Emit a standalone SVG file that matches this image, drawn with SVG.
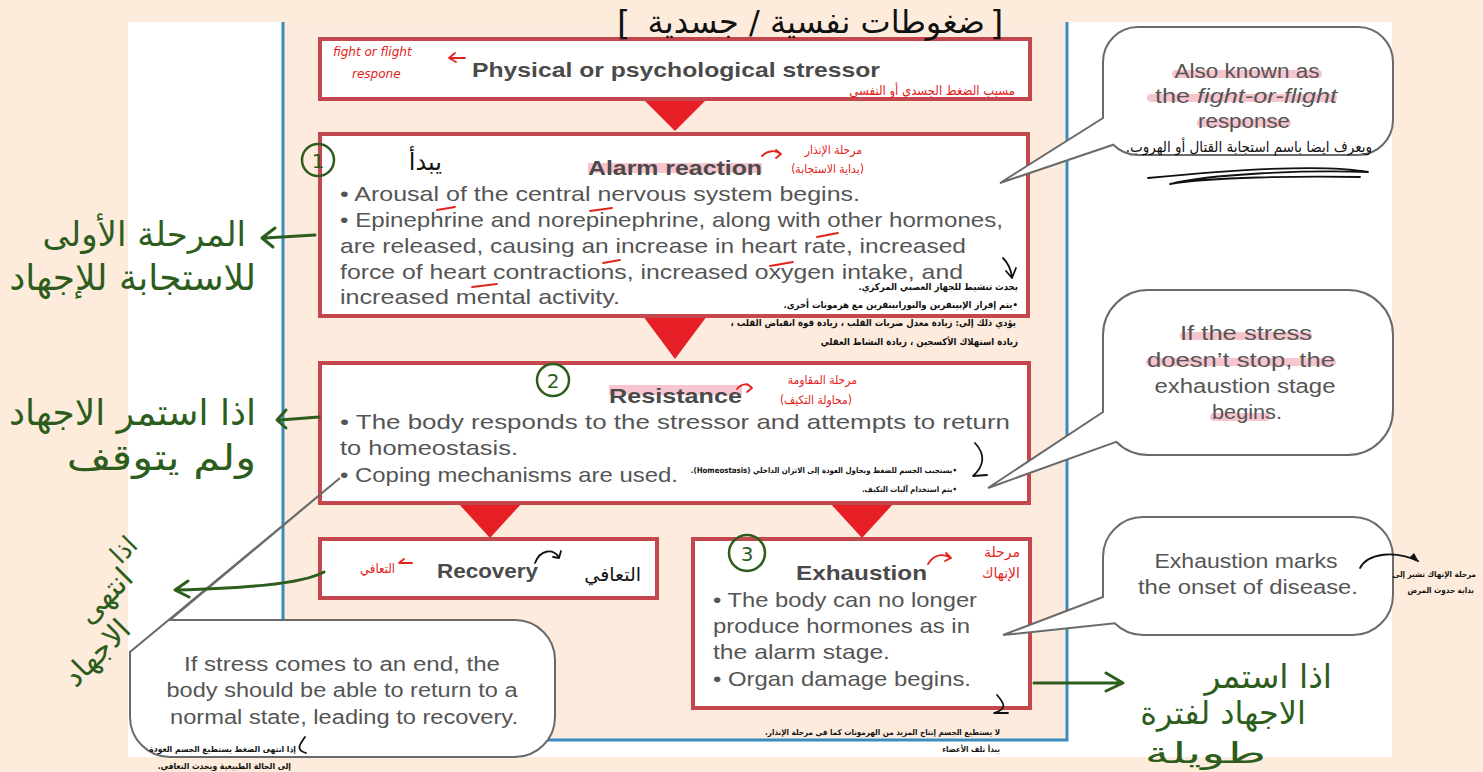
<svg xmlns="http://www.w3.org/2000/svg" width="1483" height="772" viewBox="0 0 1483 772">
<style>
.box{fill:#fff;stroke:#c4474e;stroke-width:4}
.tri{fill:#e61f27}
.bub{fill:#fff;stroke:#6a6a6a;stroke-width:2}
.en{font-family:"Liberation Sans",Arial,sans-serif;fill:#555;font-size:21px}
.bt{font-weight:bold;fill:#4a4a4a}
.bn{font-size:20px;text-anchor:middle}
.hl{fill:#f7c5cd}
.ar{font-family:"DejaVu Sans",sans-serif;direction:rtl;text-anchor:start}
.cd{font-family:"DejaVu Sans Condensed","DejaVu Sans",sans-serif}
.g{fill:#2d5d1c}
.r{fill:#e3231b}
.k{fill:#111}
.nt{font-size:9.5px;font-weight:bold}
.gs{fill:none;stroke:#2d5d1c;stroke-width:3;stroke-linecap:round;stroke-linejoin:round}
.rs{fill:none;stroke:#e3231b;stroke-width:1.8;stroke-linecap:round;stroke-linejoin:round}
.ks{fill:none;stroke:#111;stroke-width:1.8;stroke-linecap:round;stroke-linejoin:round}
.blue{stroke:#3a8bbf;stroke-width:3;fill:none}
</style>
<!-- background -->
<rect x="0" y="0" width="1483" height="772" fill="#fdecdc"/>
<rect x="128" y="22" width="1264" height="735" fill="#ffffff"/>
<rect x="283" y="22" width="784" height="718" fill="#fdebde"/>
<path class="blue" d="M283,22 V740 H1067 V22"/>

<!-- connectors -->
<g id="connectors">
<polygon class="tri" points="643,99 707,99 675,131"/>
<polygon class="tri" points="643,316 707,316 675,359"/>
<polygon class="tri" points="458,503 522,503 490,538"/>
<polygon class="tri" points="830,503 894,503 862,538"/>
</g>

<!-- nodes -->
<g id="stressor">
<rect class="box" x="320" y="39" width="710" height="60"/>
<text class="en bt" x="472" y="77" textLength="408" lengthAdjust="spacingAndGlyphs">Physical or psychological stressor</text>
</g>
<g id="alarm">
<rect class="box" x="320" y="134" width="708" height="182"/>
<rect class="hl" x="588" y="163" width="174" height="10"/>
<text class="en bt" x="588" y="175" font-size="22" textLength="174" lengthAdjust="spacingAndGlyphs">Alarm reaction</text>
<text class="en" x="340" y="201" textLength="520" lengthAdjust="spacingAndGlyphs">• Arousal of the central nervous system begins.</text>
<text class="en" x="340" y="227" textLength="663" lengthAdjust="spacingAndGlyphs">• Epinephrine and norepinephrine, along with other hormones,</text>
<text class="en" x="340" y="253" textLength="626" lengthAdjust="spacingAndGlyphs">are released, causing an increase in heart rate, increased</text>
<text class="en" x="340" y="279" textLength="623" lengthAdjust="spacingAndGlyphs">force of heart contractions, increased oxygen intake, and</text>
<text class="en" x="340" y="304" textLength="280" lengthAdjust="spacingAndGlyphs">increased mental activity.</text>
</g>
<g id="resistance">
<rect class="box" x="320" y="363" width="709" height="140"/>
<rect class="hl" x="609" y="385" width="133" height="10"/>
<text class="en bt" x="609" y="403" font-size="22" textLength="133" lengthAdjust="spacingAndGlyphs">Resistance</text>
<text class="en" x="340" y="429" textLength="670" lengthAdjust="spacingAndGlyphs">• The body responds to the stressor and attempts to return</text>
<text class="en" x="340" y="455" textLength="178" lengthAdjust="spacingAndGlyphs">to homeostasis.</text>
<text class="en" x="340" y="482" textLength="338" lengthAdjust="spacingAndGlyphs">• Coping mechanisms are used.</text>
</g>
<g id="recovery">
<rect class="box" x="320" y="539" width="337" height="59"/>
<text class="en bt" x="437" y="578" font-size="22" textLength="101" lengthAdjust="spacingAndGlyphs">Recovery</text>
</g>
<g id="exhaustion">
<rect class="box" x="693" y="539" width="337" height="169"/>
<text class="en bt" x="796" y="580" font-size="22" textLength="131" lengthAdjust="spacingAndGlyphs">Exhaustion</text>
<text class="en" x="713" y="607" textLength="264" lengthAdjust="spacingAndGlyphs">• The body can no longer</text>
<text class="en" x="713" y="633" textLength="257" lengthAdjust="spacingAndGlyphs">produce hormones as in</text>
<text class="en" x="713" y="659" textLength="177" lengthAdjust="spacingAndGlyphs">the alarm stage.</text>
<text class="en" x="713" y="686" textLength="258" lengthAdjust="spacingAndGlyphs">• Organ damage begins.</text>
</g>

<!-- callouts -->
<g id="callout-fight">
<path class="bub" d="M1138,27 H1358 A35,35 0 0 1 1393,62 V120 A35,35 0 0 1 1358,155 H1138 A35,35 0 0 1 1113.3,144.7 L1000,183 L1103,118 V62 A35,35 0 0 1 1138,27 Z"/>
<rect class="hl" x="1172" y="70" width="150" height="8" rx="4"/>
<rect class="hl" x="1147" y="94" width="190" height="8" rx="4"/>
<rect class="hl" x="1197" y="119" width="94" height="8" rx="4"/>
<text class="en bn" x="1247" y="78" textLength="145" lengthAdjust="spacingAndGlyphs">Also known as</text>
<text class="en bn" x="1246" y="103" textLength="182" lengthAdjust="spacingAndGlyphs">the <tspan font-style="italic">fight-or-flight</tspan></text>
<text class="en bn" x="1244" y="128" textLength="92" lengthAdjust="spacingAndGlyphs">response</text>
</g>
<g id="callout-stress">
<path class="bub" d="M1148,290 H1348 A45,45 0 0 1 1393,335 V410 A45,45 0 0 1 1348,455 H1148 A45,45 0 0 1 1116.2,441.8 L988,488 L1103,412 V335 A45,45 0 0 1 1148,290 Z"/>
<rect class="hl" x="1180" y="332" width="132" height="8" rx="4"/>
<rect class="hl" x="1146" y="358" width="190" height="8" rx="4"/>
<rect class="hl" x="1210" y="413" width="60" height="8" rx="4"/>
<text class="en bn" x="1246" y="340" textLength="132" lengthAdjust="spacingAndGlyphs">If the stress</text>
<text class="en bn" x="1241" y="367" textLength="188" lengthAdjust="spacingAndGlyphs">doesn’t stop, the</text>
<text class="en bn" x="1245" y="393" textLength="181" lengthAdjust="spacingAndGlyphs">exhaustion stage</text>
<text class="en bn" x="1247" y="419" textLength="70" lengthAdjust="spacingAndGlyphs">begins.</text>
</g>
<g id="callout-disease">
<path class="bub" d="M1143,517 H1353 A40,40 0 0 1 1393,557 V595 A40,40 0 0 1 1353,635 H1143 A40,40 0 0 1 1114.7,623.3 L1003,635 L1103,597 V557 A40,40 0 0 1 1143,517 Z"/>
<text class="en bn" x="1246" y="568" textLength="183" lengthAdjust="spacingAndGlyphs">Exhaustion marks</text>
<text class="en bn" x="1248" y="594" textLength="220" lengthAdjust="spacingAndGlyphs">the onset of disease.</text>
</g>
<g id="callout-recovery">
<path class="bub" d="M170,620 H515 A40,40 0 0 1 555,660 V717 A40,40 0 0 1 515,757 H170 A40,40 0 0 1 130,717 V652 L340,478 Z"/>
<text class="en bn" x="342" y="671" textLength="316" lengthAdjust="spacingAndGlyphs">If stress comes to an end, the</text>
<text class="en bn" x="342" y="697" textLength="351" lengthAdjust="spacingAndGlyphs">body should be able to return to a</text>
<text class="en bn" x="344" y="724" textLength="348" lengthAdjust="spacingAndGlyphs">normal state, leading to recovery.</text>
</g>

<!-- handwritten annotations -->
<g id="annotations">
<text class="ar k" x="985" y="33" font-size="32">ضغوطات نفسية / جسدية</text>
<text class="k" x="617" y="35" font-family="DejaVu Sans,sans-serif" font-size="34">[</text>
<text class="k" x="990" y="35" font-family="DejaVu Sans,sans-serif" font-size="34">]</text>

<text class="r" x="333" y="56" font-family="DejaVu Sans,sans-serif" font-size="12" font-style="italic">fight or flight</text>
<text class="r" x="352" y="78" font-family="DejaVu Sans,sans-serif" font-size="12" font-style="italic">respone</text>
<path class="rs" d="M465,58 H450 M455,53 L449,58 L456,62"/>
<text class="ar cd r" x="1015" y="95" font-size="13">مسبب الضغط الجسدي أو النفسي</text>

<circle cx="318" cy="160" r="16" fill="none" stroke="#2d5d1c" stroke-width="2.5"/>
<text class="g" x="318" y="168" font-family="DejaVu Sans,sans-serif" font-size="20" text-anchor="middle">1</text>
<text class="ar k" x="442" y="170" font-size="24">يبدأ</text>
<path class="rs" d="M762,156 C768,150 776,150 781,154 M776,150 L781,154 L776,158"/>
<text class="ar cd r" x="862" y="154" font-size="12">مرحلة الإنذار</text>
<text class="ar cd r" x="864" y="173" font-size="12">(بداية الاستجابة)</text>
<path class="rs" d="M437,210 L455,207 M590,211 L612,208 M817,237 L838,233 M603,263 L620,260 M770,266 L793,262 M472,287 L497,284"/>
<path class="ks" d="M1003,258 C1009,264 1011,270 1012,277 M1006,271 L1012,278 L1016,268"/>
<text class="ar cd k nt" x="1018" y="290">يحدث تنشيط للجهاز العصبي المركزي.</text>
<text class="ar cd k nt" x="1018" y="308">•يتم إفراز الإبينفرين والنورابينفرين مع هرمونات أخرى.</text>
<text class="ar cd k nt" x="1016" y="326">يؤدي ذلك إلى: زيادة معدل ضربات القلب ، زيادة قوة انقباض القلب ،</text>
<text class="ar cd k nt" x="1018" y="345">زيادة استهلاك الأكسجين ، زيادة النشاط العقلي</text>

<text class="ar g" x="246" y="246" font-size="34">المرحلة الأولى</text>
<text class="ar g" x="256" y="290" font-size="36">للاستجابة للإجهاد</text>
<path class="gs" d="M315,235 L265,238 M275,228 L262,238 L273,247"/>

<circle cx="553" cy="380" r="16" fill="none" stroke="#2d5d1c" stroke-width="2.5"/>
<text class="g" x="553" y="388" font-family="DejaVu Sans,sans-serif" font-size="20" text-anchor="middle">2</text>
<path class="rs" d="M737,389 C742,383 748,383 752,388 M747,384 L752,388 L747,392"/>
<text class="ar cd r" x="857" y="384" font-size="12">مرحلة المقاومة</text>
<text class="ar cd r" x="852" y="404" font-size="12">(محاولة التكيف)</text>
<path class="ks" d="M975,443 C986,455 984,466 973,476 L987,475"/>
<text class="ar cd k" x="957" y="473" font-size="7.8" font-weight="bold">•يستجيب الجسم للضغط ويحاول العودة إلى الاتزان الداخلي (Homeostasis).</text>
<text class="ar cd k" x="957" y="492" font-size="7.8" font-weight="bold">•يتم استخدام آليات التكيف.</text>

<text class="ar g" x="256" y="425" font-size="36">اذا استمر الاجهاد</text>
<text class="g" font-family="DejaVu Sans,sans-serif" font-size="36" direction="rtl" text-anchor="start" transform="translate(256,470) scale(1.2,1)">ولم يتوقف</text>
<path class="gs" d="M319,417 L280,420 M286,410 L277,420 L286,428"/>

<text class="ar cd r" x="395" y="573" font-size="13">التعافي</text>
<path class="rs" d="M412,563 H400 M404,559 L399,563"/>
<path class="ks" d="M535,563 C540,550 552,548 559,557 M553,557 L559,558 L561,551"/>
<text class="ar k" x="641" y="581" font-size="19">التعافي</text>

<text class="g" font-family="DejaVu Sans,sans-serif" font-size="26" transform="translate(130,556) rotate(-45)" text-anchor="middle" direction="rtl">اذا</text>
<text class="g" font-family="DejaVu Sans,sans-serif" font-size="30" transform="translate(112,603) rotate(-45)" text-anchor="middle" direction="rtl">انتهى</text>
<text class="g" font-family="DejaVu Sans,sans-serif" font-size="30" transform="translate(104,660) rotate(-45)" text-anchor="middle" direction="rtl">الاجهاد</text>
<path class="gs" d="M324,572 C300,585 240,588 176,590 M188,581 L175,590 L189,597"/>

<text class="ar cd k" x="296" y="752" font-size="8.5" font-weight="bold">إذا انتهى الضغط يستطيع الجسم العودة</text>
<text class="ar cd k" x="291" y="769" font-size="8.5" font-weight="bold">إلى الحالة الطبيعية ويحدث التعافي.</text>
<path class="ks" d="M305,737 C300,744 295,750 306,753"/>

<circle cx="747" cy="553" r="18" fill="none" stroke="#2d5d1c" stroke-width="2.5"/>
<text class="g" x="747" y="561" font-family="DejaVu Sans,sans-serif" font-size="20" text-anchor="middle">3</text>
<path class="rs" d="M928,564 C934,554 944,553 951,558 M946,553 L951,558 L945,561"/>
<text class="ar r" x="1020" y="557" font-size="14">مرحلة</text>
<text class="ar r" x="1020" y="578" font-size="14">الإنهاك</text>
<path class="ks" d="M997,695 C1004,703 1008,709 994,713 L1008,713"/>
<text class="ar cd k" x="1000" y="735" font-size="8" font-weight="bold">لا يستطيع الجسم إنتاج المزيد من الهرمونات كما في مرحلة الإنذار.</text>
<text class="ar cd k" x="1000" y="752" font-size="8" font-weight="bold">يبدأ تلف الأعضاء</text>
<path class="gs" d="M1034,683 H1122 M1106,673 L1123,683 L1106,691"/>
<text class="ar g" x="1332" y="688" font-size="33">اذا استمر</text>
<text class="ar g" x="1306" y="724" font-size="32">الاجهاد لفترة</text>
<text class="g" font-family="DejaVu Sans,sans-serif" font-size="29" direction="rtl" text-anchor="start" transform="translate(1266,763) scale(1.7,1)">طويلة</text>

<text class="ar cd k" x="1372" y="152" font-size="15">ويعرف ايضا باسم استجابة القتال أو الهروب.</text>
<path class="ks" d="M1148,178 C1250,168 1330,165 1368,172 C1300,170 1210,174 1170,184 C1210,177 1300,176 1360,177"/>

<path class="ks" d="M1360,568 C1368,553 1395,550 1418,561"/>
<path d="M1419,562 L1409,558 L1414,553 Z" fill="#111"/>
<text class="ar cd k" x="1476" y="577" font-size="8" font-weight="bold">مرحلة الإنهاك تشير إلى</text>
<text class="ar cd k" x="1474" y="593" font-size="8" font-weight="bold">بداية حدوث المرض</text>
</g>
</svg>
